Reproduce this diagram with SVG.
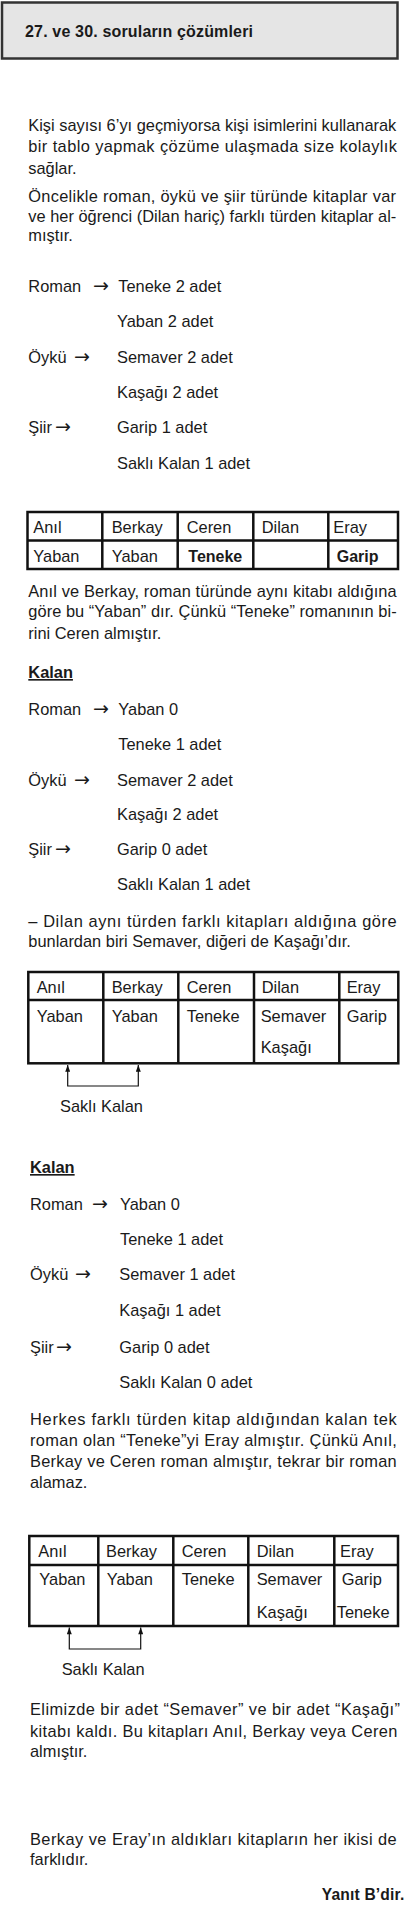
<svg xmlns="http://www.w3.org/2000/svg" width="409" height="1908" viewBox="0 0 409 1908">
<style>
.t{font-family:"Liberation Sans",Arial,Helvetica,sans-serif;font-size:16.4px;fill:#1a1a1a}
.b{font-weight:bold}
.u{text-decoration:underline}
.ar{font-family:"DejaVu Sans","Liberation Sans",sans-serif;font-size:19px}
.grid{stroke:#111;stroke-width:2.5;fill:none}
.conn{stroke:#111;stroke-width:1.2;fill:none}
</style>
<defs>
<marker id="ah" viewBox="0 0 8 6" refX="8" refY="3" markerWidth="8" markerHeight="5" markerUnits="userSpaceOnUse" orient="auto"><path d="M0,0 L8,3 L0,6 z" fill="#111"/></marker>
</defs>
<rect width="409" height="1908" fill="#fff"/>

<g id="header">
<rect x="2" y="2.5" width="395.5" height="56" fill="#e5e5e5" stroke="#333" stroke-width="2.5"/>
<text class="t b" x="25" y="37" style="font-size:16px" textLength="228">27. ve 30. soruların çözümleri</text>
</g>

<g id="para1">
<text class="t" x="28.3" y="131" textLength="368">Kişi sayısı 6’yı geçmiyorsa kişi isimlerini kullanarak</text>
<text class="t" x="28.3" y="152" textLength="368.7">bir tablo yapmak çözüme ulaşmada size kolaylık</text>
<text class="t" x="28.3" y="174">sağlar.</text>
<text class="t" x="28.3" y="202" textLength="367.7">Öncelikle roman, öykü ve şiir türünde kitaplar var</text>
<text class="t" x="28.3" y="222" textLength="368">ve her öğrenci (Dilan hariç) farklı türden kitaplar al-</text>
<text class="t" x="28.3" y="241">mıştır.</text>
</g>

<g id="list1">
<text class="t" x="28.3" y="292">Roman<tspan class="ar" x="93">→</tspan><tspan x="118.3">Teneke 2 adet</tspan></text>
<text class="t" x="117" y="327">Yaban 2 adet</text>
<text class="t" x="28.3" y="363">Öykü<tspan class="ar" x="74">→</tspan><tspan x="117">Semaver 2 adet</tspan></text>
<text class="t" x="117" y="398">Kaşağı 2 adet</text>
<text class="t" x="28.3" y="433">Şiir<tspan class="ar" x="55">→</tspan><tspan x="117">Garip 1 adet</tspan></text>
<text class="t" x="117" y="469">Saklı Kalan 1 adet</text>
</g>

<g id="table1">
<rect class="grid" x="27.5" y="512" width="370.5" height="57"/>
<path class="grid" d="M27.5,540.5 H398 M102.3,512 V569 M177.7,512 V569 M253.3,512 V569 M328.3,512 V569"/>
<text class="t" x="33.3" y="533">Anıl</text>
<text class="t" x="111.7" y="533">Berkay</text>
<text class="t" x="186.7" y="533">Ceren</text>
<text class="t" x="261.7" y="533">Dilan</text>
<text class="t" x="333.3" y="533">Eray</text>
<text class="t" x="33.3" y="562">Yaban</text>
<text class="t" x="111.7" y="562">Yaban</text>
<text class="t b" x="188.3" y="562" style="font-size:16px">Teneke</text>
<text class="t b" x="336.7" y="562" style="font-size:16px">Garip</text>
</g>

<g id="para2">
<text class="t" x="28.3" y="597" textLength="368.4">Anıl ve Berkay, roman türünde aynı kitabı aldığına</text>
<text class="t" x="28.3" y="617" textLength="368.4">göre bu “Yaban” dır. Çünkü “Teneke” romanının bi-</text>
<text class="t" x="28.3" y="639">rini Ceren almıştır.</text>
</g>

<g id="list2">
<text class="t b u" x="28.3" y="678">Kalan</text>
<text class="t" x="28.3" y="715">Roman<tspan class="ar" x="93">→</tspan><tspan x="118.3">Yaban 0</tspan></text>
<text class="t" x="118.3" y="750">Teneke 1 adet</text>
<text class="t" x="28.3" y="786">Öykü<tspan class="ar" x="74">→</tspan><tspan x="117">Semaver 2 adet</tspan></text>
<text class="t" x="117" y="820">Kaşağı 2 adet</text>
<text class="t" x="28.3" y="855">Şiir<tspan class="ar" x="55">→</tspan><tspan x="117">Garip 0 adet</tspan></text>
<text class="t" x="117" y="890">Saklı Kalan 1 adet</text>
</g>

<g id="para3">
<text class="t" x="28.3" y="927" textLength="368.4">– Dilan aynı türden farklı kitapları aldığına göre</text>
<text class="t" x="28.3" y="947">bunlardan biri Semaver, diğeri de Kaşağı’dır.</text>
</g>

<g id="table2">
<rect class="grid" x="28.3" y="972" width="370" height="91.3"/>
<path class="grid" d="M28.3,1000 H398.3 M103.3,972 V1063.3 M178.3,972 V1063.3 M254,972 V1063.3 M339.3,972 V1063.3"/>
<text class="t" x="36.7" y="993">Anıl</text>
<text class="t" x="111.7" y="993">Berkay</text>
<text class="t" x="186.7" y="993">Ceren</text>
<text class="t" x="261.7" y="993">Dilan</text>
<text class="t" x="346.7" y="993">Eray</text>
<text class="t" x="36.7" y="1022">Yaban</text>
<text class="t" x="111.7" y="1022">Yaban</text>
<text class="t" x="186.7" y="1022">Teneke</text>
<text class="t" x="260.7" y="1022">Semaver</text>
<text class="t" x="346.7" y="1022">Garip</text>
<text class="t" x="260.7" y="1053">Kaşağı</text>
</g>
<g id="label-sakli1">
<text class="t" x="60" y="1112">Saklı Kalan</text>
</g>

<g id="list3">
<text class="t b u" x="30" y="1173">Kalan</text>
<text class="t" x="30" y="1210">Roman<tspan class="ar" x="92">→</tspan><tspan x="120">Yaban 0</tspan></text>
<text class="t" x="120" y="1245">Teneke 1 adet</text>
<text class="t" x="30" y="1280">Öykü<tspan class="ar" x="75">→</tspan><tspan x="119.3">Semaver 1 adet</tspan></text>
<text class="t" x="119.3" y="1316">Kaşağı 1 adet</text>
<text class="t" x="30" y="1353">Şiir<tspan class="ar" x="56">→</tspan><tspan x="119.3">Garip 0 adet</tspan></text>
<text class="t" x="119.3" y="1388">Saklı Kalan 0 adet</text>
</g>

<g id="para4">
<text class="t" x="30" y="1425" textLength="366.7">Herkes farklı türden kitap aldığından kalan tek</text>
<text class="t" x="30" y="1446" textLength="366.7">roman olan “Teneke”yi Eray almıştır. Çünkü Anıl,</text>
<text class="t" x="30" y="1467" textLength="366.7">Berkay ve Ceren roman almıştır, tekrar bir roman</text>
<text class="t" x="30" y="1488">alamaz.</text>
</g>

<g id="table3">
<rect class="grid" x="29.3" y="1536" width="368.7" height="90"/>
<path class="grid" d="M29.3,1565 H398 M98.3,1536 V1626 M173.3,1536 V1626 M248.3,1536 V1626 M334.3,1536 V1626"/>
<text class="t" x="38.3" y="1557">Anıl</text>
<text class="t" x="106" y="1557">Berkay</text>
<text class="t" x="181.7" y="1557">Ceren</text>
<text class="t" x="256.7" y="1557">Dilan</text>
<text class="t" x="340" y="1557">Eray</text>
<text class="t" x="39.3" y="1585">Yaban</text>
<text class="t" x="106.7" y="1585">Yaban</text>
<text class="t" x="181.7" y="1585">Teneke</text>
<text class="t" x="256.7" y="1585">Semaver</text>
<text class="t" x="341.7" y="1585">Garip</text>
<text class="t" x="256.7" y="1618">Kaşağı</text>
<text class="t" x="336.7" y="1618">Teneke</text>
</g>
<g id="label-sakli2">
<text class="t" x="61.7" y="1675">Saklı Kalan</text>
</g>

<g id="para5">
<text class="t" x="30" y="1715" textLength="370">Elimizde bir adet “Semaver” ve bir adet “Kaşağı”</text>
<text class="t" x="30" y="1737" textLength="367.3">kitabı kaldı. Bu kitapları Anıl, Berkay veya Ceren</text>
<text class="t" x="30" y="1757">almıştır.</text>
<text class="t" x="30" y="1845" textLength="366.7">Berkay ve Eray’ın aldıkları kitapların her ikisi de</text>
<text class="t" x="30" y="1865">farklıdır.</text>
</g>

<g id="answer">
<text class="t b" x="321.7" y="1900" style="font-size:15.6px" textLength="82.6">Yanıt B’dir.</text>
</g>

<g id="connectors">
<path class="conn" d="M100,1086 H67.7 V1065" marker-end="url(#ah)"/>
<path class="conn" d="M100,1086 H138.3 V1065" marker-end="url(#ah)"/>
<path class="conn" d="M100,1649 H69.3 V1627.5" marker-end="url(#ah)"/>
<path class="conn" d="M100,1649 H140.7 V1627.5" marker-end="url(#ah)"/>
</g>
</svg>
